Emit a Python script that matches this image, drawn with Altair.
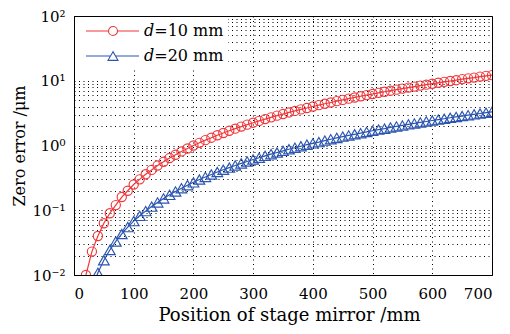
import altair as alt
import pandas as pd

# ---- data ----
series_names = ["𝑑=10 mm", "𝑑=20 mm"]
series_colors = ["#f2363a", "#2b55b0"]

pos_d10 = list(range(20, 710, 10))
err_d10 = [0.010, 0.023, 0.040, 0.063, 0.090, 0.12, 0.16, 0.20, 0.25, 0.30,
           0.36, 0.42, 0.49, 0.56, 0.64, 0.72, 0.81, 0.90, 1.00, 1.10,
           1.21, 1.32, 1.44, 1.56, 1.69, 1.82, 1.96, 2.10, 2.25, 2.40,
           2.56, 2.72, 2.89, 3.06, 3.24, 3.42, 3.61, 3.80, 4.00, 4.20,
           4.41, 4.62, 4.84, 5.06, 5.29, 5.52, 5.76, 6.00, 6.25, 6.50,
           6.76, 7.02, 7.29, 7.56, 7.84, 8.12, 8.41, 8.70, 9.00, 9.30,
           9.61, 9.92, 10.2, 10.6, 10.9, 11.2, 11.6, 11.9, 12.2]

pos_d20 = list(range(30, 710, 10))
err_d20 = [0.0061, 0.0108, 0.0169, 0.0243, 0.033, 0.043, 0.055, 0.068, 0.082, 0.097,
           0.114, 0.132, 0.152, 0.173, 0.195, 0.219, 0.244, 0.270, 0.298, 0.327,
           0.357, 0.389, 0.422, 0.456, 0.492, 0.529, 0.567, 0.607, 0.648, 0.691,
           0.735, 0.780, 0.826, 0.874, 0.924, 0.974, 1.03, 1.08, 1.13, 1.19,
           1.25, 1.31, 1.37, 1.43, 1.49, 1.55, 1.62, 1.69, 1.76, 1.82,
           1.90, 1.97, 2.04, 2.12, 2.19, 2.27, 2.35, 2.43, 2.51, 2.59,
           2.68, 2.76, 2.85, 2.94, 3.03, 3.12, 3.21, 3.31]

x_ticks = [0, 100, 200, 300, 400, 500, 600, 700]
y_major = [0.01, 0.1, 1, 10, 100]
y_major_labels = ["10⁻²", "10⁻¹", "10⁰", "10¹", "10²"]
y_minor_mult = [2, 3, 4, 5, 6, 7, 8, 9]

# ---- tables ----
rows = [{"pos": p, "err": e, "series": series_names[0]} for p, e in zip(pos_d10, err_d10)]
rows += [{"pos": p, "err": e, "series": series_names[1]} for p, e in zip(pos_d20, err_d20)]
df = pd.DataFrame(rows)

y_grid = list(y_major)
for m in y_major[:-1]:
    y_grid += [round(m * k, 6) for k in y_minor_mult]
y_grid = sorted(y_grid)

label_expr = ""
for v, lab in zip(y_major, y_major_labels):
    label_expr += f"datum.value == {v} ? '{lab}' : "
label_expr += "''"

FONT = "DejaVu Serif"

x_enc = alt.X("pos:Q",
              scale=alt.Scale(domain=[0, 700], nice=False, zero=False),
              axis=alt.Axis(values=x_ticks, title="Position of stage mirror /mm",
                            labelPadding=11, titlePadding=5, ticks=False, titleX=215,
                            labelFontSize=15, titleFontSize=18))
y_enc = alt.Y("err:Q",
              scale=alt.Scale(type="log", domain=[0.01, 100], nice=False),
              axis=alt.Axis(values=y_grid, labelExpr=label_expr, title="Zero error /μm",
                            labelPadding=9, titlePadding=4, ticks=False, labelOverlap=False,
                            labelFontSize=15, titleFontSize=16))

color_scale = alt.Scale(domain=series_names, range=series_colors)

# custom legend symbols: line with marker in the middle (unit = sqrt(size)/2 = 9px)
sym_circle = ("M-0.333,0L2.167,0M3.167,0L5.556,0"
              "M3.167,0A0.5,0.5,0,1,1,2.167,0A0.5,0.5,0,1,1,3.167,0")
sym_tri = ("M-0.333,0L2.389,0M2.944,0L5.556,0"
           "M2.667,-0.481L2.111,0.481L3.222,0.481Z")

legend = alt.Legend(title=None, orient="none", legendX=1, legendY=1,
                    fillColor="white", padding=4, rowPadding=7,
                    labelFont=FONT, labelFontSize=16, labelLimit=500,
                    labelOffset=45, symbolSize=324, symbolStrokeWidth=1.1,
                    symbolOpacity=1, symbolFillColor="transparent",
                    labelExpr="datum.label + '" + "\u00a0" * 27 + "'")

base = alt.Chart(df).encode(x=x_enc, y=y_enc)


def one(i):
    return base.transform_filter(alt.datum.series == series_names[i])


line_a = one(0).mark_line(clip=True, strokeWidth=1.2, color=series_colors[0])
line_b = one(1).mark_line(clip=True, strokeWidth=1.2, color=series_colors[1])
pts_a = one(0).mark_point(shape="circle", size=85, filled=False, clip=True,
                          strokeWidth=1.15, color=series_colors[0], opacity=1)
pts_b = one(1).mark_point(shape="triangle-up", size=115, filled=False, clip=True,
                          strokeWidth=1.15, color=series_colors[1], opacity=1)

leg_layer = base.mark_point(opacity=0, size=324, filled=False, strokeWidth=1.1).encode(
    color=alt.Color("series:N", scale=color_scale, legend=legend),
    shape=alt.Shape("series:N", scale=alt.Scale(domain=series_names, range=[sym_circle, sym_tri]),
                    legend=legend))

chart = alt.layer(line_a, line_b, pts_a, pts_b, leg_layer).properties(
    width=418, height=259,
    autosize=alt.AutoSizeParams(type="none"),
    padding={"left": 66, "top": 8, "right": 10, "bottom": 60},
).configure_view(
    stroke="black", strokeWidth=1
).configure_axis(
    labelFont=FONT, titleFont=FONT, labelColor="black", titleColor="black",
    titleFontWeight="normal", domainColor="black", domainWidth=1,
    gridColor="#000000", gridDash=[1, 3.5], gridOpacity=1, gridWidth=1
).configure_legend(
    labelColor="black"
)

chart.save("out.html", embed_options={"renderer": "svg", "actions": False})
